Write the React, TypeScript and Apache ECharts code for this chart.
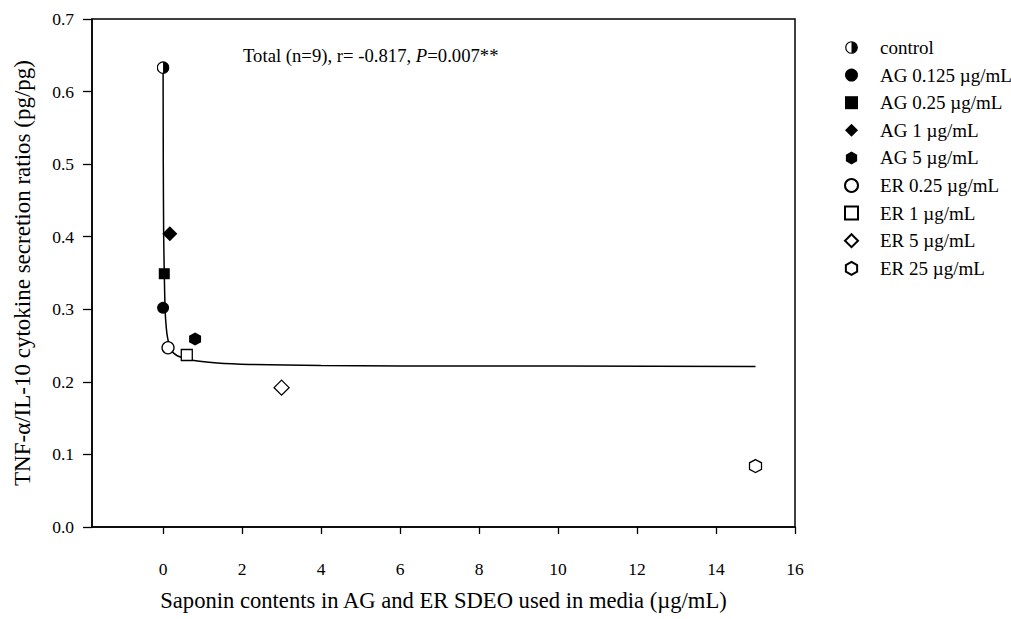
import React, { useEffect, useRef } from "react";
import * as echarts from "echarts";

const FONT = "'Liberation Serif', 'Times New Roman', serif";

// Series names (legend order)
const seriesNames = [
  "control",
  "AG 0.125 µg/mL",
  "AG 0.25 µg/mL",
  "AG 1 µg/mL",
  "AG 5 µg/mL",
  "ER 0.25 µg/mL",
  "ER 1 µg/mL",
  "ER 5 µg/mL",
  "ER 25 µg/mL",
];
// Saponin content (x) per treatment
const saponinX = [0.0, 0.0, 0.03, 0.17, 0.81, 0.125, 0.6, 3.0, 15.0];
// TNF-α/IL-10 ratio (y) per treatment
const ratioY = [0.633, 0.302, 0.349, 0.404, 0.259, 0.247, 0.237, 0.192, 0.084];

// Fitted curve, points
const curveX = [0.0, 0.005, 0.015, 0.03, 0.05, 0.08, 0.11, 0.19, 0.36, 0.7, 1.37, 2.2, 4, 6, 10, 15];
const curveY = [0.634, 0.5, 0.4, 0.35, 0.3, 0.275, 0.262, 0.244, 0.236, 0.23, 0.226, 0.224, 0.2225, 0.222, 0.222, 0.221];

const xTickValues = [0, 2, 4, 6, 8, 10, 12, 14, 16];

const halfSvg =
  "<svg xmlns='http://www.w3.org/2000/svg' width='26' height='26' viewBox='0 0 26 26'>" +
  "<circle cx='13' cy='13' r='11.5' fill='white' stroke='black' stroke-width='2.4'/>" +
  "<path d='M13 1.5 A11.5 11.5 0 0 1 13 24.5 Z' fill='black'/></svg>";
const halfCircle = "image://data:image/svg+xml;charset=utf-8," + encodeURIComponent(halfSvg);
const hexagon = "path://M0,-1L0.866,-0.5L0.866,0.5L0,1L-0.866,0.5L-0.866,-0.5Z";

const symbols = [halfCircle, "circle", "rect", "diamond", hexagon, "circle", "rect", "diamond", hexagon];
const sizes: any[] = [13, 12, 11, 15, [12, 13], 12, 11, 15, [12, 13]];
const filled = [true, true, true, true, true, false, false, false, false];

export default function App() {
  const ref = useRef<HTMLDivElement>(null);
  useEffect(() => {
    if (!ref.current) return;
    const chart = echarts.init(ref.current, null, { renderer: "svg" });
    const scatter = seriesNames.map((name, i) => ({
      name,
      type: "scatter",
      symbol: symbols[i],
      symbolSize: sizes[i],
      z: 3,
      itemStyle: filled[i]
        ? { color: "#000", borderColor: "#000", borderWidth: 0, opacity: 1 }
        : { color: "#fff", borderColor: "#000", borderWidth: 1.3, opacity: 1 },
      data: [[saponinX[i], ratioY[i]]],
    }));
    chart.setOption({
      animation: false,
      backgroundColor: "#fff",
      textStyle: { fontFamily: FONT, color: "#000" },
      grid: {
        left: 92,
        right: 216,
        top: 19,
        bottom: 92,
        show: true,
        borderColor: "#000",
        borderWidth: 1.5,
        backgroundColor: "transparent",
      },
      xAxis: {
        type: "value",
        min: -1.8,
        max: 16,
        name: "Saponin contents in AG and ER SDEO used in media (µg/mL)",
        nameLocation: "middle",
        nameGap: 62,
        nameTextStyle: { fontFamily: FONT, fontSize: 22.6, color: "#000" },
        axisLine: { show: true, onZero: false, lineStyle: { color: "#000", width: 1.5 } },
        axisTick: { show: true, length: 7, customValues: xTickValues, lineStyle: { color: "#000", width: 1.3 } },
        axisLabel: {
          customValues: xTickValues,
          margin: 33,
          fontFamily: FONT,
          fontSize: 17.5,
          color: "#000",
        },
        splitLine: { show: false },
      },
      yAxis: {
        type: "value",
        min: 0,
        max: 0.7,
        interval: 0.1,
        name: "TNF-α/IL-10 cytokine secretion ratios (pg/pg)",
        nameLocation: "middle",
        nameGap: 58,
        nameTextStyle: { fontFamily: FONT, fontSize: 23, color: "#000" },
        axisLine: { show: true, onZero: false, lineStyle: { color: "#000", width: 1.5 } },
        axisTick: { show: true, length: 9, lineStyle: { color: "#000", width: 1.3 } },
        axisLabel: {
          margin: 18,
          fontFamily: FONT,
          fontSize: 17.5,
          color: "#000",
          formatter: (v: number) => v.toFixed(1),
        },
        splitLine: { show: false },
      },
      legend: {
        orient: "vertical",
        left: 839,
        top: 33,
        itemWidth: 13,
        itemHeight: 13,
        itemGap: 8.6,
        data: seriesNames,
        textStyle: {
          fontFamily: FONT,
          fontSize: 19,
          lineHeight: 19,
          color: "#000",
          padding: [0, 0, 0, 17],
        },
      },
      graphic: [
        {
          type: "text",
          left: 243,
          top: 46,
          style: {
            text: "{a|Total (n=9), r= -0.817, }{p|P}{a|=0.007**}",
            rich: {
              a: { fontFamily: FONT, fontSize: 18.7, fill: "#000" },
              p: { fontFamily: FONT, fontSize: 18.7, fontStyle: "italic", fill: "#000" },
            },
          },
        },
      ],
      series: [
        {
          name: "fit",
          type: "line",
          data: curveX.map((x, i) => [x, curveY[i]]),
          showSymbol: false,
          symbol: "none",
          smooth: 0.2,
          z: 2,
          lineStyle: { color: "#000", width: 1.5 },
          silent: true,
        },
        ...scatter,
      ],
    });
    return () => chart.dispose();
  }, []);
  return <div ref={ref} style={{ width: 1011, height: 619, position: "absolute", left: 0, top: 0 }} />;
}
